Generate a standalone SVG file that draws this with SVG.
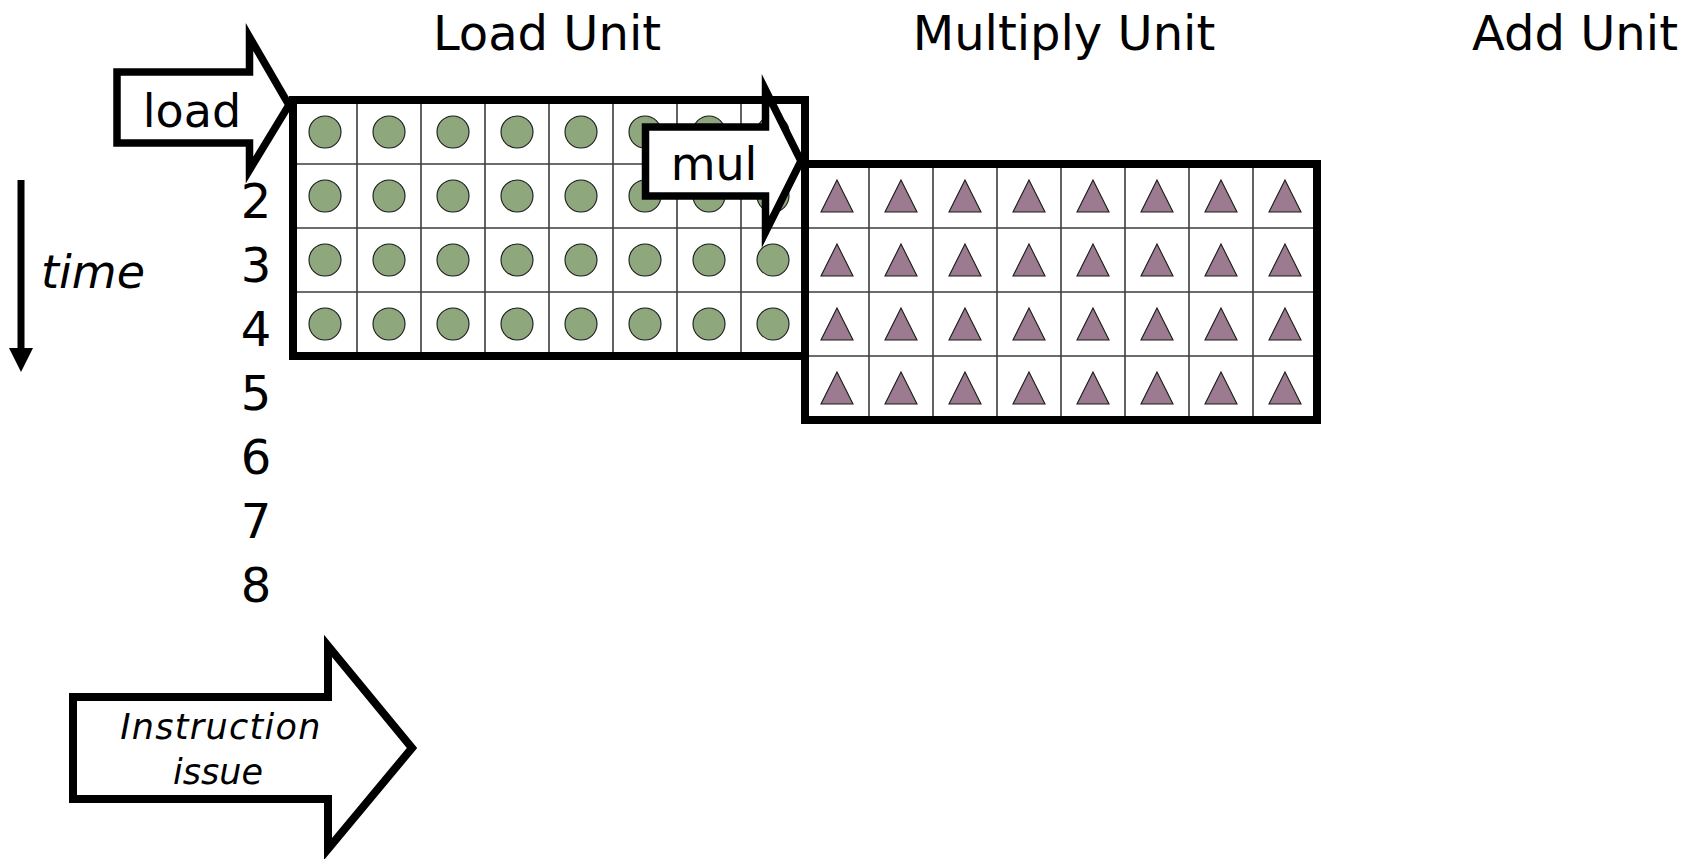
<svg xmlns="http://www.w3.org/2000/svg" xmlns:xlink="http://www.w3.org/1999/xlink" width="1690" height="859" viewBox="0 0 1690 859">
<style>
.bg{fill:#fff}
.thin{stroke:#3c3c3c;stroke-width:1.6;fill:none}
.border{fill:none;stroke:#000;stroke-width:8}
.dot{fill:#8fa77c;stroke:#1a1a1a;stroke-width:1.1}
.tri{fill:#9c7a8f;stroke:#1a1a1a;stroke-width:1.1;stroke-linejoin:miter}
.arrow{fill:#fff;stroke:#000;stroke-width:7.5;stroke-linejoin:miter;stroke-miterlimit:10}
.txt{font-family:"DejaVu Sans","Liberation Sans",sans-serif;fill:#000}
.title{font-size:48px;text-anchor:middle}
.num{font-size:48px;text-anchor:middle}
.lbl{font-size:46px;text-anchor:middle}
.it{font-style:italic}
</style>
<defs>
<circle id="d" r="16" class="dot"/>
<path id="t" d="M0,-16 L16,16 L-16,16 Z" class="tri"/>
</defs>
<rect class="bg" x="0" y="0" width="1690" height="859"/>

<g id="titles" class="txt title">
<text x="547" y="50">Load Unit</text>
<text x="1064" y="50">Multiply Unit</text>
<text x="1575" y="50">Add Unit</text>
</g>

<g id="time-labels" class="txt num">
<text x="256" y="218">2</text>
<text x="256" y="282">3</text>
<text x="256" y="346">4</text>
<text x="256" y="410">5</text>
<text x="256" y="474">6</text>
<text x="256" y="538">7</text>
<text x="256" y="602">8</text>
</g>

<g id="time-axis">
<text class="txt it" x="41" y="288" font-size="46">time</text>
</g>

<g id="connectors">
<line x1="21" y1="180" x2="21" y2="352" stroke="#000" stroke-width="7"/>
<polygon points="9,348 33,348 21,372" fill="#000"/>
</g>

<g id="load-unit">
<path class="thin" d="M357,100V356M421,100V356M485,100V356M549,100V356M613,100V356M677,100V356M741,100V356M293,164H805M293,228H805M293,292H805"/>
<g>
<use href="#d" x="325" y="132"/><use href="#d" x="389" y="132"/><use href="#d" x="453" y="132"/><use href="#d" x="517" y="132"/><use href="#d" x="581" y="132"/><use href="#d" x="645" y="132"/><use href="#d" x="709" y="132"/><use href="#d" x="773" y="132"/>
<use href="#d" x="325" y="196"/><use href="#d" x="389" y="196"/><use href="#d" x="453" y="196"/><use href="#d" x="517" y="196"/><use href="#d" x="581" y="196"/><use href="#d" x="645" y="196"/><use href="#d" x="709" y="196"/><use href="#d" x="773" y="196"/>
<use href="#d" x="325" y="260"/><use href="#d" x="389" y="260"/><use href="#d" x="453" y="260"/><use href="#d" x="517" y="260"/><use href="#d" x="581" y="260"/><use href="#d" x="645" y="260"/><use href="#d" x="709" y="260"/><use href="#d" x="773" y="260"/>
<use href="#d" x="325" y="324"/><use href="#d" x="389" y="324"/><use href="#d" x="453" y="324"/><use href="#d" x="517" y="324"/><use href="#d" x="581" y="324"/><use href="#d" x="645" y="324"/><use href="#d" x="709" y="324"/><use href="#d" x="773" y="324"/>
</g>
<rect class="border" x="293" y="100" width="512" height="256"/>
</g>

<g id="multiply-unit">
<path class="thin" d="M869,164V420M933,164V420M997,164V420M1061,164V420M1125,164V420M1189,164V420M1253,164V420M805,228H1317M805,292H1317M805,356H1317"/>
<g>
<use href="#t" x="837" y="196"/><use href="#t" x="901" y="196"/><use href="#t" x="965" y="196"/><use href="#t" x="1029" y="196"/><use href="#t" x="1093" y="196"/><use href="#t" x="1157" y="196"/><use href="#t" x="1221" y="196"/><use href="#t" x="1285" y="196"/>
<use href="#t" x="837" y="260"/><use href="#t" x="901" y="260"/><use href="#t" x="965" y="260"/><use href="#t" x="1029" y="260"/><use href="#t" x="1093" y="260"/><use href="#t" x="1157" y="260"/><use href="#t" x="1221" y="260"/><use href="#t" x="1285" y="260"/>
<use href="#t" x="837" y="324"/><use href="#t" x="901" y="324"/><use href="#t" x="965" y="324"/><use href="#t" x="1029" y="324"/><use href="#t" x="1093" y="324"/><use href="#t" x="1157" y="324"/><use href="#t" x="1221" y="324"/><use href="#t" x="1285" y="324"/>
<use href="#t" x="837" y="388"/><use href="#t" x="901" y="388"/><use href="#t" x="965" y="388"/><use href="#t" x="1029" y="388"/><use href="#t" x="1093" y="388"/><use href="#t" x="1157" y="388"/><use href="#t" x="1221" y="388"/><use href="#t" x="1285" y="388"/>
</g>
<rect class="border" x="805" y="164" width="512" height="256"/>
</g>

<g id="load-arrow">
<polygon class="arrow" points="117,72 249.5,72 249.5,37 289,105 249.5,170 249.5,143 117,143"/>
<text class="txt lbl" x="192" y="127">load</text>
</g>

<g id="mul-arrow">
<polygon class="arrow" points="645.5,127 765.5,127 765.5,90 801,161 765.5,232 765.5,196 645.5,196"/>
<text class="txt lbl" x="714" y="180">mul</text>
</g>

<g id="issue-arrow">
<polygon class="arrow" style="stroke-width:8" points="73,697 328,697 328,646 412,748 328,849 328,799 73,799"/>
<text class="txt it" x="221" y="739" font-size="35" letter-spacing="1.3" text-anchor="middle">Instruction</text>
<text class="txt it" x="218" y="784" font-size="35" text-anchor="middle">issue</text>
</g>
</svg>
